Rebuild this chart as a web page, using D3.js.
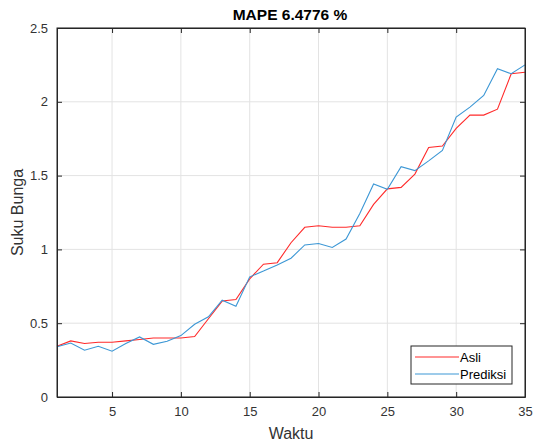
<!DOCTYPE html>
<html>
<head>
<meta charset="utf-8">
<script src="https://cdn.jsdelivr.net/npm/d3@7"></script>
<style>
  body { margin: 0; background: #fff; }
  text { font-family: "Liberation Sans", Arial, sans-serif; }
</style>
</head>
<body>
<svg id="chart" width="534" height="443"></svg>
<script>
  var width = 534, height = 443
  var margin = {top: 28, right: 9, bottom: 46, left: 57}

  // data
  var waktu = d3.range(1, 36)
  var asli = [0.344, 0.38, 0.362, 0.371, 0.371, 0.38, 0.39, 0.40, 0.40, 0.40,
              0.41, 0.53, 0.65, 0.66, 0.80, 0.90, 0.91, 1.045, 1.15, 1.16,
              1.15, 1.15, 1.16, 1.305, 1.41, 1.42, 1.51, 1.69, 1.70, 1.82,
              1.91, 1.91, 1.95, 2.19, 2.20]
  var prediksi = [0.34, 0.366, 0.317, 0.344, 0.31, 0.362, 0.407, 0.357, 0.378, 0.416,
                  0.493, 0.543, 0.656, 0.615, 0.814, 0.853, 0.895, 0.94, 1.03, 1.04,
                  1.013, 1.07, 1.244, 1.443, 1.407, 1.56, 1.534, 1.60, 1.67, 1.896,
                  1.964, 2.043, 2.224, 2.19, 2.25]
  var xTicks = [5, 10, 15, 20, 25, 30, 35]
  var yTicks = [0, 0.5, 1, 1.5, 2, 2.5]
  var seriesNames = ["Asli", "Prediksi"]
  var seriesColors = ["#ff2a2a", "#3c97d5"]

  var svg = d3.select("#chart")
  var w = width - margin.left - margin.right
  var h = height - margin.top - margin.bottom

  var x = d3.scaleLinear().domain([1, 35]).range([0, w])
  var y = d3.scaleLinear().domain([0, 2.5]).range([h, 0])

  var g = svg.append("g").attr("transform", "translate(" + margin.left + "," + margin.top + ")")

  // grid
  g.selectAll(".gx").data(xTicks).enter().append("line")
    .attr("x1", function(d) { return x(d) }).attr("x2", function(d) { return x(d) })
    .attr("y1", 0).attr("y2", h)
    .attr("stroke", "#e3e3e3")
  g.selectAll(".gy").data(yTicks).enter().append("line")
    .attr("x1", 0).attr("x2", w)
    .attr("y1", function(d) { return y(d) }).attr("y2", function(d) { return y(d) })
    .attr("stroke", "#e3e3e3")

  // lines
  var series = [asli, prediksi]
  series.forEach(function(s, i) {
    var line = d3.line()
      .x(function(d, j) { return x(waktu[j]) })
      .y(function(d) { return y(d) })
    g.append("path").datum(s)
      .attr("fill", "none")
      .attr("stroke", seriesColors[i])
      .attr("stroke-width", 1.1)
      .attr("d", line)
  })

  // axes (matlab style, ticks inward, box)
  var xAxis = d3.axisBottom(x).tickValues(xTicks).tickSizeInner(-5).tickSizeOuter(0).tickPadding(10)
  var yAxis = d3.axisLeft(y).tickValues(yTicks).tickSizeInner(-5).tickSizeOuter(0).tickPadding(9)
    .tickFormat(function(d) { return d })

  var gx = g.append("g").attr("transform", "translate(0," + h + ")").call(xAxis)
  var gy = g.append("g").call(yAxis)
  // top and right ticks
  var gx2 = g.append("g").call(d3.axisTop(x).tickValues(xTicks).tickSizeInner(-5).tickSizeOuter(0).tickFormat(""))
  var gy2 = g.append("g").attr("transform", "translate(" + w + ",0)")
    .call(d3.axisRight(y).tickValues(yTicks).tickSizeInner(-5).tickSizeOuter(0).tickFormat(""))

  ;[gx, gy, gx2, gy2].forEach(function(a) {
    a.selectAll("path").attr("stroke", "#262626")
    a.selectAll("line").attr("stroke", "#262626")
    a.selectAll("text").attr("fill", "#333").style("font-size", "13px")
      .style("font-family", "'Liberation Sans', Arial, sans-serif")
  })

  g.append("rect").attr("width", w).attr("height", h)
    .attr("fill", "none").attr("stroke", "#262626").attr("stroke-width", 1)

  // labels
  svg.append("text").attr("x", 290).attr("y", 20)
    .attr("text-anchor", "middle").style("font-size", "15.5px").style("font-weight", "bold")
    .attr("fill", "#000").text("MAPE 6.4776 %")
  svg.append("text").attr("x", margin.left + w / 2).attr("y", 439)
    .attr("text-anchor", "middle").style("font-size", "16px").attr("fill", "#333").text("Waktu")
  svg.append("text").attr("transform", "translate(23," + (margin.top + h / 2) + ") rotate(-90)")
    .attr("text-anchor", "middle").style("font-size", "16px").attr("fill", "#333").text("Suku Bunga")

  // legend
  var lg = svg.append("g").attr("transform", "translate(411,346)")
  lg.append("rect").attr("width", 101).attr("height", 38)
    .attr("fill", "#fff").attr("stroke", "#262626").attr("stroke-width", 1)
  seriesNames.forEach(function(n, i) {
    var yy = 11 + i * 17
    lg.append("line").attr("x1", 4).attr("x2", 48).attr("y1", yy).attr("y2", yy)
      .attr("stroke", seriesColors[i]).attr("stroke-width", 1.1)
    lg.append("text").attr("x", 49).attr("y", yy + 5)
      .style("font-size", "13px").attr("fill", "#000").text(n)
  })
</script>
</body>
</html>
